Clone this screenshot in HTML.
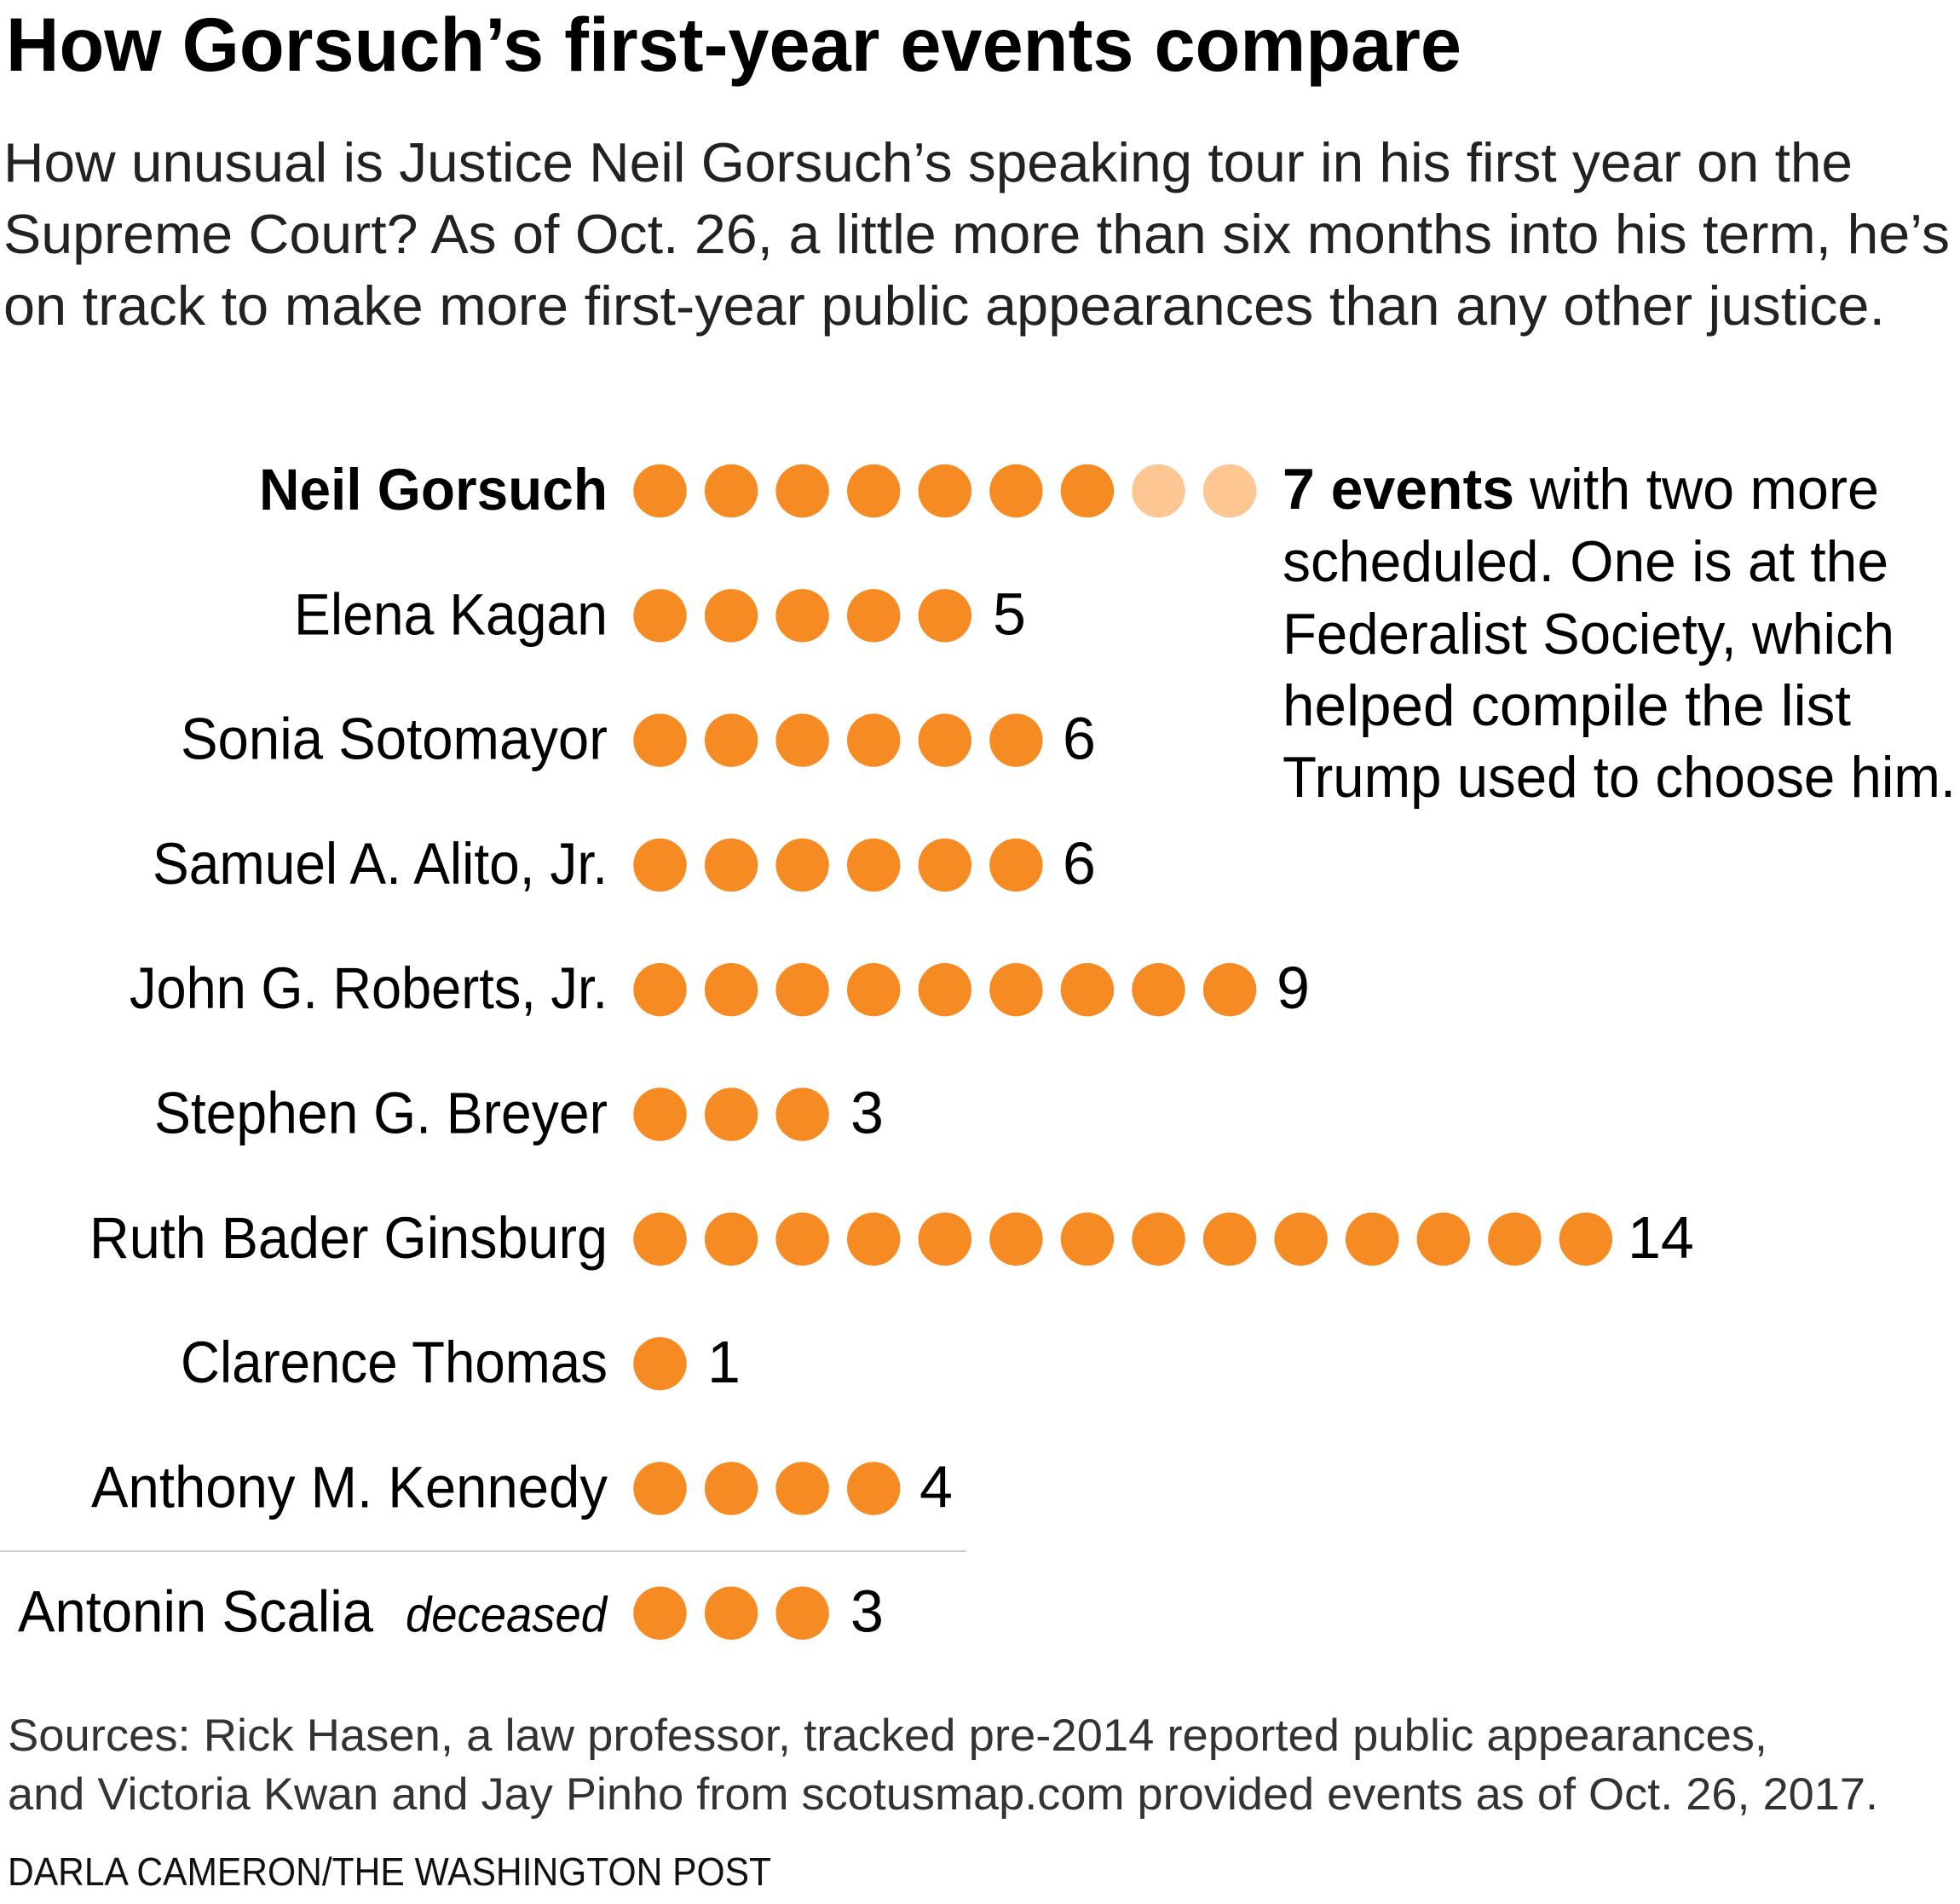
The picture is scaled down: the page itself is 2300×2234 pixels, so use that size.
<!DOCTYPE html>
<html>
<head>
<meta charset="utf-8">
<style>
  html,body{margin:0;padding:0;background:#fff;}
  svg{display:block;}
  text{font-family:"Liberation Sans", Arial, sans-serif;}
</style>
</head>
<body>
<svg width="2300" height="2234" viewBox="0 0 2300 2234" xmlns="http://www.w3.org/2000/svg">
  <rect x="0" y="0" width="2300" height="2234" fill="#fff"/>

  <!-- Title -->
  <text x="7" y="83" font-size="89" font-weight="bold" fill="#000" textLength="1708" lengthAdjust="spacingAndGlyphs">How Gorsuch’s first-year events compare</text>

  <!-- Subtitle -->
  <g font-size="65" fill="#222">
    <text x="4" y="213" textLength="2170" lengthAdjust="spacingAndGlyphs">How unusual is Justice Neil Gorsuch’s speaking tour in his first year on the</text>
    <text x="4" y="297" textLength="2284" lengthAdjust="spacingAndGlyphs">Supreme Court? As of Oct. 26, a little more than six months into his term, he’s</text>
    <text x="4" y="381" textLength="2208" lengthAdjust="spacingAndGlyphs">on track to make more first-year public appearances than any other justice.</text>
  </g>

  <!-- Names -->
  <g font-size="69" fill="#000" text-anchor="end">
    <text x="713" y="598" font-weight="bold" textLength="409" lengthAdjust="spacingAndGlyphs">Neil Gorsuch</text>
    <text x="713" y="744.3" textLength="368" lengthAdjust="spacingAndGlyphs">Elena Kagan</text>
    <text x="713" y="890.6" textLength="501" lengthAdjust="spacingAndGlyphs">Sonia Sotomayor</text>
    <text x="713" y="1036.9" textLength="534" lengthAdjust="spacingAndGlyphs">Samuel A. Alito, Jr.</text>
    <text x="713" y="1183.2" textLength="561" lengthAdjust="spacingAndGlyphs">John G. Roberts, Jr.</text>
    <text x="713" y="1329.5" textLength="532" lengthAdjust="spacingAndGlyphs">Stephen G. Breyer</text>
    <text x="713" y="1475.8" textLength="608" lengthAdjust="spacingAndGlyphs">Ruth Bader Ginsburg</text>
    <text x="713" y="1622.1" textLength="501" lengthAdjust="spacingAndGlyphs">Clarence Thomas</text>
    <text x="713" y="1768.4" textLength="606" lengthAdjust="spacingAndGlyphs">Anthony M. Kennedy</text>
  </g>
  <text x="21" y="1914.7" font-size="69" fill="#000" textLength="417" lengthAdjust="spacingAndGlyphs">Antonin Scalia</text>
  <text x="476" y="1914.7" font-size="58" font-style="italic" fill="#000" textLength="236" lengthAdjust="spacingAndGlyphs">deceased</text>

  <!-- Separator -->
  <line x1="0" y1="1820" x2="1134" y2="1820" stroke="#cccccc" stroke-width="2"/>

  <!-- Dots -->
  <g fill="#f68b24">
    <circle cx="774.5" cy="576" r="31.2"/><circle cx="858.1" cy="576" r="31.2"/><circle cx="941.6" cy="576" r="31.2"/><circle cx="1025.2" cy="576" r="31.2"/><circle cx="1108.8" cy="576" r="31.2"/><circle cx="1192.4" cy="576" r="31.2"/><circle cx="1275.9" cy="576" r="31.2"/>
    <circle cx="1359.5" cy="576" r="31.2" fill="#fdc692"/><circle cx="1443.1" cy="576" r="31.2" fill="#fdc692"/>
    <circle cx="774.5" cy="722.3" r="31.2"/><circle cx="858.1" cy="722.3" r="31.2"/><circle cx="941.6" cy="722.3" r="31.2"/><circle cx="1025.2" cy="722.3" r="31.2"/><circle cx="1108.8" cy="722.3" r="31.2"/>
    <circle cx="774.5" cy="868.6" r="31.2"/><circle cx="858.1" cy="868.6" r="31.2"/><circle cx="941.6" cy="868.6" r="31.2"/><circle cx="1025.2" cy="868.6" r="31.2"/><circle cx="1108.8" cy="868.6" r="31.2"/><circle cx="1192.4" cy="868.6" r="31.2"/>
    <circle cx="774.5" cy="1014.9" r="31.2"/><circle cx="858.1" cy="1014.9" r="31.2"/><circle cx="941.6" cy="1014.9" r="31.2"/><circle cx="1025.2" cy="1014.9" r="31.2"/><circle cx="1108.8" cy="1014.9" r="31.2"/><circle cx="1192.4" cy="1014.9" r="31.2"/>
    <circle cx="774.5" cy="1161.2" r="31.2"/><circle cx="858.1" cy="1161.2" r="31.2"/><circle cx="941.6" cy="1161.2" r="31.2"/><circle cx="1025.2" cy="1161.2" r="31.2"/><circle cx="1108.8" cy="1161.2" r="31.2"/><circle cx="1192.4" cy="1161.2" r="31.2"/><circle cx="1275.9" cy="1161.2" r="31.2"/><circle cx="1359.5" cy="1161.2" r="31.2"/><circle cx="1443.1" cy="1161.2" r="31.2"/>
    <circle cx="774.5" cy="1307.5" r="31.2"/><circle cx="858.1" cy="1307.5" r="31.2"/><circle cx="941.6" cy="1307.5" r="31.2"/>
    <circle cx="774.5" cy="1453.8" r="31.2"/><circle cx="858.1" cy="1453.8" r="31.2"/><circle cx="941.6" cy="1453.8" r="31.2"/><circle cx="1025.2" cy="1453.8" r="31.2"/><circle cx="1108.8" cy="1453.8" r="31.2"/><circle cx="1192.4" cy="1453.8" r="31.2"/><circle cx="1275.9" cy="1453.8" r="31.2"/><circle cx="1359.5" cy="1453.8" r="31.2"/><circle cx="1443.1" cy="1453.8" r="31.2"/><circle cx="1526.6" cy="1453.8" r="31.2"/><circle cx="1610.2" cy="1453.8" r="31.2"/><circle cx="1693.8" cy="1453.8" r="31.2"/><circle cx="1777.4" cy="1453.8" r="31.2"/><circle cx="1860.9" cy="1453.8" r="31.2"/>
    <circle cx="774.5" cy="1600.1" r="31.2"/>
    <circle cx="774.5" cy="1746.4" r="31.2"/><circle cx="858.1" cy="1746.4" r="31.2"/><circle cx="941.6" cy="1746.4" r="31.2"/><circle cx="1025.2" cy="1746.4" r="31.2"/>
    <circle cx="774.5" cy="1892.7" r="31.2"/><circle cx="858.1" cy="1892.7" r="31.2"/><circle cx="941.6" cy="1892.7" r="31.2"/>
  </g>

  <!-- Numbers -->
  <g font-size="70" fill="#000">
    <text x="1165" y="744.3">5</text>
    <text x="1247" y="890.6">6</text>
    <text x="1247" y="1036.9">6</text>
    <text x="1498" y="1183.2">9</text>
    <text x="998" y="1329.5">3</text>
    <text x="1910" y="1475.8">14</text>
    <text x="830" y="1622.1">1</text>
    <text x="1079" y="1768.4">4</text>
    <text x="998" y="1914.7">3</text>
  </g>

  <!-- Annotation -->
  <g font-size="68" fill="#000">
    <text x="1505" y="597" font-weight="bold" textLength="272" lengthAdjust="spacingAndGlyphs">7 events</text>
    <text x="1795" y="597" textLength="410" lengthAdjust="spacingAndGlyphs">with two more</text>
    <text x="1505" y="682" textLength="711" lengthAdjust="spacingAndGlyphs">scheduled. One is at the</text>
    <text x="1505" y="767" textLength="718" lengthAdjust="spacingAndGlyphs">Federalist Society, which</text>
    <text x="1505" y="851" textLength="667" lengthAdjust="spacingAndGlyphs">helped compile the list</text>
    <text x="1505" y="935" textLength="790" lengthAdjust="spacingAndGlyphs">Trump used to choose him.</text>
  </g>

  <!-- Sources -->
  <g font-size="53" fill="#333">
    <text x="9" y="2054" textLength="2065" lengthAdjust="spacingAndGlyphs">Sources: Rick Hasen, a law professor, tracked pre-2014 reported public appearances,</text>
    <text x="9" y="2123" textLength="2195" lengthAdjust="spacingAndGlyphs">and Victoria Kwan and Jay Pinho from scotusmap.com provided events as of Oct. 26, 2017.</text>
  </g>
  <text x="9" y="2212" font-size="46" fill="#111" textLength="896" lengthAdjust="spacingAndGlyphs">DARLA CAMERON/THE WASHINGTON POST</text>
</svg>
</body>
</html>
